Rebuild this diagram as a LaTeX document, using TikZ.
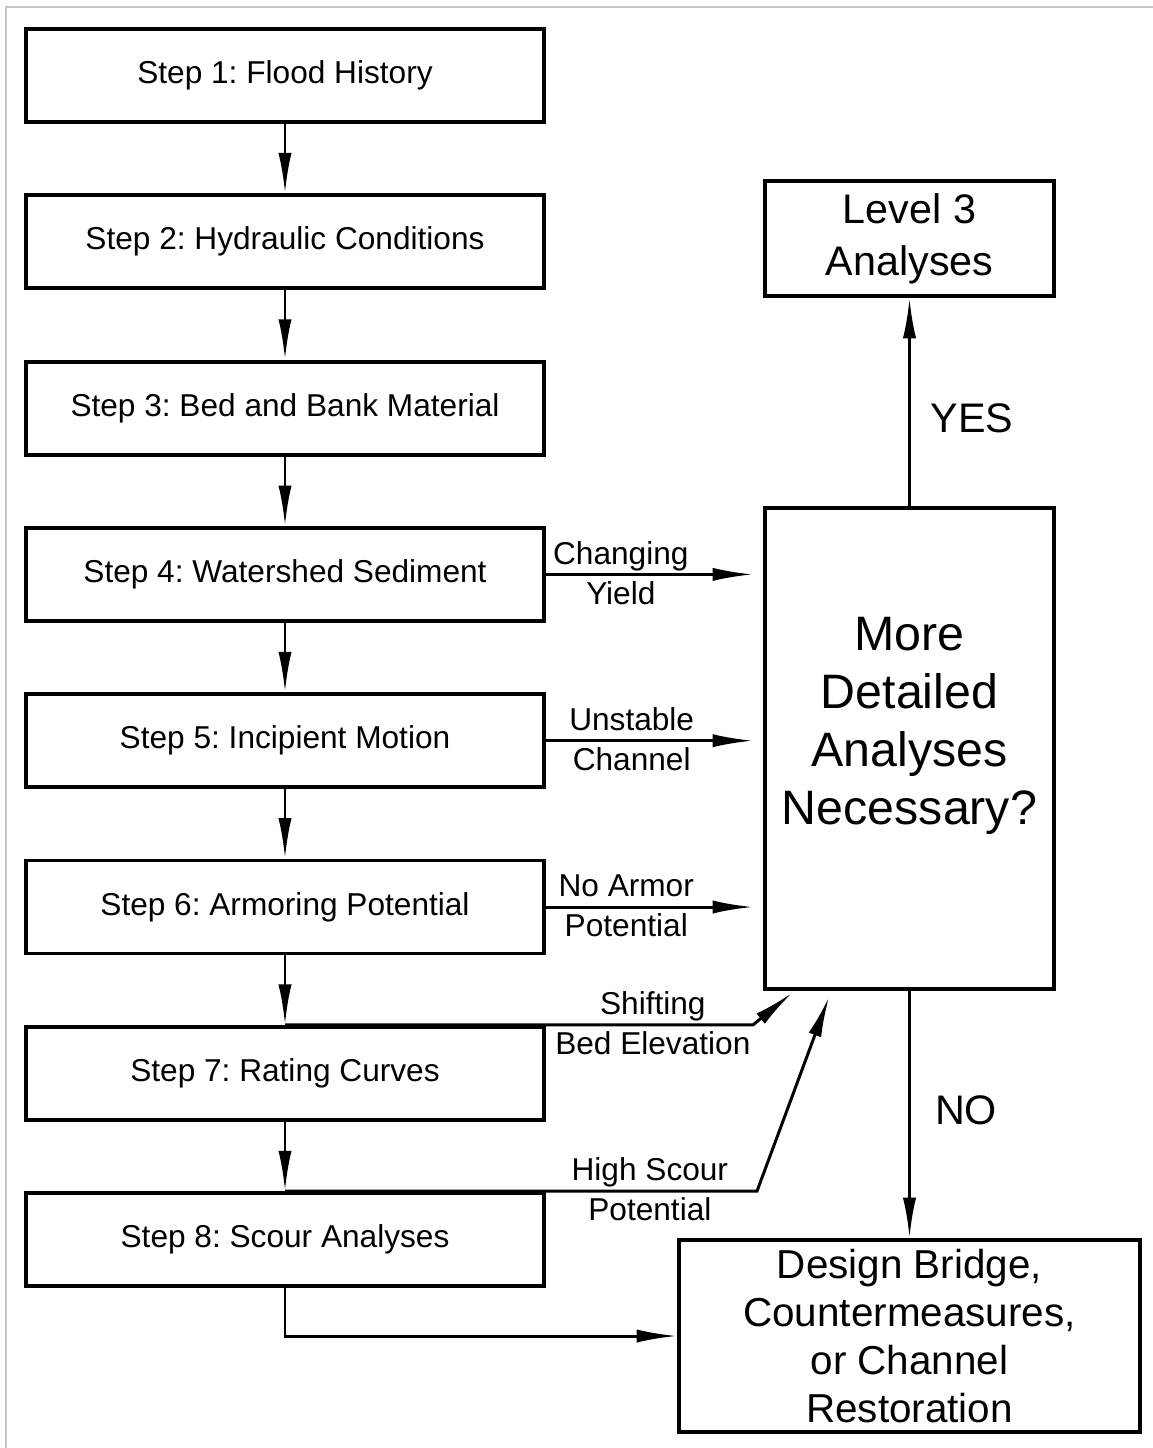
\documentclass[tikz,border=0pt]{standalone}
\usepackage{fontspec}
\setmainfont{Liberation Sans}
\usetikzlibrary{arrows.meta}
\frenchspacing

\tikzset{
  stepbox/.style={draw, line width=2.2pt, minimum width=10.36cm, minimum height=1.86cm,
    font=\fontsize{18pt}{21pt}\selectfont},
  bigbox/.style={draw, line width=2.2pt, align=center},
  flow/.style={line width=1.7pt, -{Latex[length=23pt,width=7.5pt]}},
  lbl/.style={font=\fontsize{18pt}{21pt}\selectfont, inner sep=1pt,
    text height=15pt, text depth=4pt},
}

\begin{document}
\begin{tikzpicture}[x=0.02cm,y=-0.02cm]
        \useasboundingbox (0,0) rectangle (1153,1448);
        % frame
        \draw[gray!45, line width=1.2pt] (6,1448) -- (6,7) -- (1153,7);

        % steps
        \foreach \n/\txt in {
        1/Flood History, 2/Hydraulic Conditions, 3/Bed and Bank Material,
        4/Watershed Sediment, 5/Incipient Motion, 6/Armoring Potential,
        7/Rating Curves, 8/Scour Analyses}
        \node[stepbox] (s\n) at (285,{75.5+(\n-1)*166.3}) {Step \n: \txt};

        \foreach \a/\b in {1/2, 2/3, 3/4, 4/5, 5/6, 6/7, 7/8}
        \draw[flow] (s\a) -- (s\b);

        % right side
        \node[bigbox, minimum width=5.78cm, minimum height=2.3cm,
          font=\fontsize{23.5pt}{29.6pt}\selectfont] (l3) at (909.5,238.5) {Level 3\\Analyses};
        \node[bigbox, minimum width=5.78cm, minimum height=9.62cm] (q) at (909.5,748.5) {};
        \node[align=center, font=\fontsize{27.5pt}{33pt}\selectfont] (qtxt) at (909.5,726)
          {More\\Detailed\\Analyses\\Necessary?};
        \node[bigbox, minimum width=9.22cm, minimum height=3.84cm,
          font=\fontsize{23pt}{27.3pt}\selectfont] (dz) at (909.5,1336)
          {Design Bridge,\\Countermeasures,\\or Channel\\Restoration};

        \draw[flow] (q.north) -- (l3.south);
        \draw[flow] (q.south) -- (dz.north);
        \node[font=\fontsize{23.5pt}{28pt}\selectfont] (yes) at (972,418) {YES};
        \node[font=\fontsize{23.5pt}{28pt}\selectfont] (no) at (966,1110) {NO};

        % side connectors
        \draw[flow, shorten >=5.7pt] (s4.east) -- (s4.east -| q.west)
          node[lbl, pos=0.345, above] {Changing} node[lbl, pos=0.345, below] {Yield};
        \draw[flow, shorten >=5.7pt] (s5.east) -- (s5.east -| q.west)
          node[lbl, pos=0.395, above] {Unstable} node[lbl, pos=0.395, below] {Channel};
        \draw[flow, shorten >=5.7pt] (s6.east) -- (s6.east -| q.west)
          node[lbl, pos=0.37, above] {No Armor} node[lbl, pos=0.37, below] {Potential};

        \coordinate (b7) at (753,1024);
        \coordinate (q7) at (792,993);
        \coordinate (b8) at (757,1190);
        \coordinate (q8) at (829,997);
        \draw[flow] (s7.north) -- (s7.north -| b7)
          node[lbl, pos=0.786, above] {Shifting} node[lbl, pos=0.786, below] {Bed Elevation}
          -- (q7);
        \draw[flow] (s8.north) -- (s8.north -| b8)
          node[lbl, pos=0.773, above] {High Scour} node[lbl, pos=0.773, below] {Potential}
          -- (q8);

        \draw[flow] (s8.south) |- (dz.west);
    \end{tikzpicture}
\end{document}
